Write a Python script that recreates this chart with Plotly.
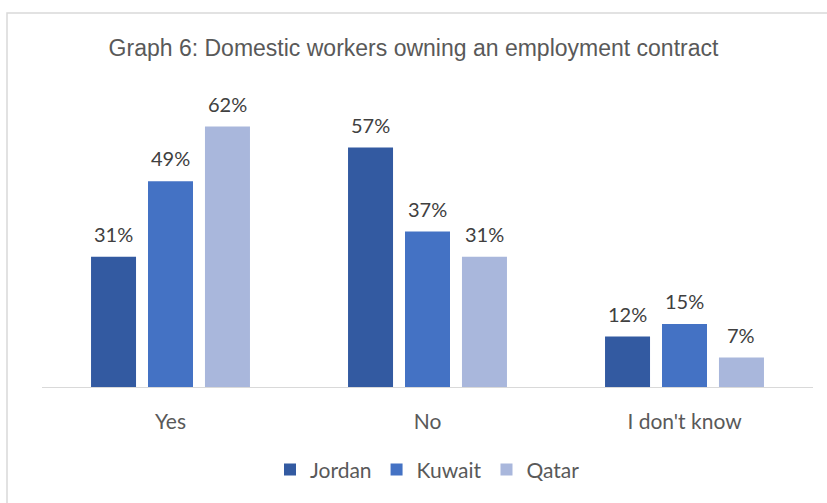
import plotly.graph_objects as go

categories = ["Yes", "No", "I don't know"]
jordan = [31, 57, 12]
kuwait = [49, 37, 15]
qatar = [62, 31, 7]
series_names = ["Jordan", "Kuwait", "Qatar"]
colors = ["#335AA1", "#4472C4", "#A9B7DC"]

W, H = 827, 503
L, R, T, B = 42, 14, 93, 112
pw, ph = W - L - R, H - T - B
BARGAP = 0.335
BARGROUPGAP = 0.21
LABEL_FONT = "Lato, Open Sans, sans-serif"

fig = go.Figure()
all_series = [jordan, kuwait, qatar]
for name, vals, col in zip(series_names, all_series, colors):
    fig.add_trace(go.Bar(
        name=name, x=categories, y=vals, marker_color=col,
        marker_line_width=0,
    ))

# value labels above each bar, placed at the bar's slot within its group
slot = (1 - BARGAP) / len(all_series)
for i, vals in enumerate(all_series):
    offset = (i - (len(all_series) - 1) / 2) * slot
    for j, v in enumerate(vals):
        fig.add_annotation(
            x=j + offset, y=v, xref="x", yref="y",
            text=f"{v}%", showarrow=False, yanchor="bottom", yshift=9,
            font=dict(family=LABEL_FONT, size=20, color="#404040"),
        )

fig.update_layout(
    width=W, height=H,
    margin=dict(l=L, r=R, t=T, b=B),
    paper_bgcolor="white", plot_bgcolor="white",
    barmode="group", bargap=BARGAP, bargroupgap=BARGROUPGAP,
    title=dict(text="Graph 6: Domestic workers owning an employment contract",
               x=0.5, xanchor="center", y=1 - 48 / H, yanchor="middle",
               font=dict(family="Liberation Sans, Arial, sans-serif", size=23, color="#595959")),
    xaxis=dict(showline=True, linecolor="#D9D9D9", linewidth=1, ticks="",
               tickfont=dict(family=LABEL_FONT, size=21, color="#595959"),
               ticklabelstandoff=16, showgrid=False, zeroline=False),
    yaxis=dict(range=[0, 70], visible=False, showgrid=False, zeroline=False),
    legend=dict(orientation="h", x=0.5, xanchor="center", y=(391 - 475) / ph, yanchor="middle",
                font=dict(family=LABEL_FONT, size=21, color="#595959"),
                itemwidth=30, traceorder="normal"),
    showlegend=True,
)

# light outer frame of the chart area (runs off the right and bottom edges)
fig.add_shape(type="rect", xref="paper", yref="paper",
              x0=(7 - L) / pw, x1=(W + 30 - L) / pw,
              y0=(391 - (H + 30)) / ph, y1=1 + (T - 12) / ph,
              line=dict(color="#D9D9D9", width=1.5), fillcolor="rgba(0,0,0,0)", layer="below")

fig.write_html("out.html")
